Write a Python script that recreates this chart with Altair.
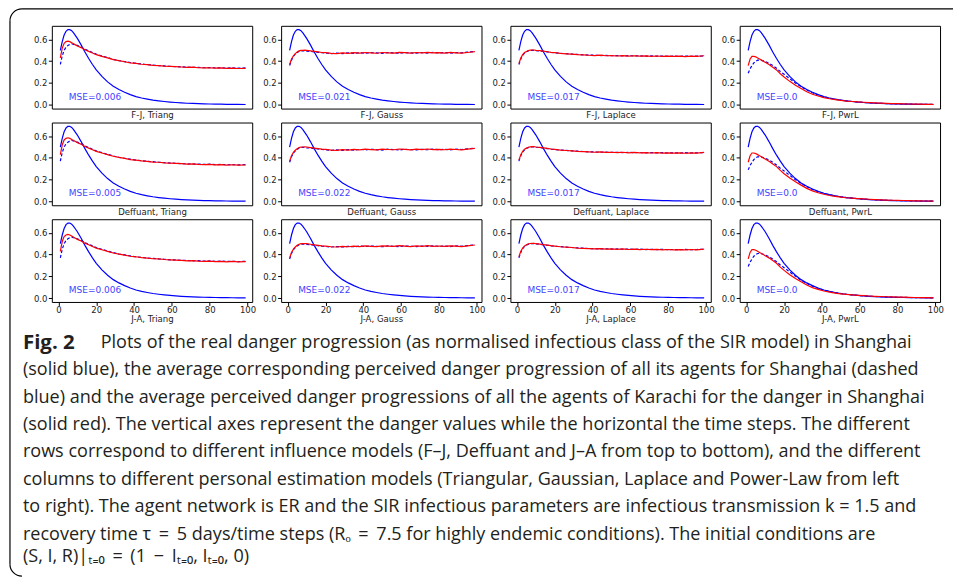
import altair as alt
import pandas as pd

# ---------------- data ----------------
T = [1, 2, 3, 4, 5, 6, 7, 8, 9, 10,
     12, 14, 16, 18, 20,
     23, 26, 29, 32, 35, 38, 41, 44, 47, 50, 53, 56, 59, 62, 65, 68, 71, 74, 77, 80, 83, 86, 89, 92, 95,
     99]

REAL = [.50, .58, .64, .675, .69, .69, .68, .66, .635, .61,
        .55, .485, .425, .37, .32,
        .26, .21, .17, .14, .115, .093, .075, .062, .052, .043, .036, .03, .025, .021, .017, .014, .012, .01,
        .0085, .007, .006, .005, .004, .0035, .003,
        .0025]

TRIANG_RED = [.43, .52, .565, .58, .585, .58, .57, .56, .55, .54,
              .525, .505, .49, .475, .46,
              .445, .43, .415, .405, .395, .385, .38, .372, .368, .362, .36, .355, .352, .35, .347, .343, .345, .34,
              .338, .34, .336, .338, .334, .337, .333,
              .335]
TRIANG_DASH = [.37, .45, .50, .53, .545, .555, .56, .555, .55, .545,
               .53, .51, .495, .48, .465,
               .448, .433, .418, .405, .397, .388, .38, .375, .368, .365, .36, .357, .352, .351, .348, .346, .343,
               .344, .34, .342, .338, .34, .337, .339, .336,
               .338]
GAUSS_RED = [.37, .42, .45, .47, .485, .495, .50, .50, .502, .50,
             .495, .49, .485, .48, .478,
             .472, .47, .476, .472, .478, .474, .48, .476, .473, .48, .477, .475, .482, .478, .474, .48, .476, .482,
             .476, .479, .475, .481, .477, .474, .48,
             .488]
GAUSS_DASH = [.36, .41, .445, .465, .48, .49, .495, .497, .495, .493,
              .49, .486, .482, .478, .475,
              .47, .474, .47, .476, .472, .478, .474, .479, .476, .472, .48, .476, .473, .479, .476, .474, .479,
              .475, .481, .476, .479, .474, .48, .477, .483,
              .49]
LAPLACE_RED = [.38, .43, .46, .48, .49, .498, .502, .503, .503, .50,
               .497, .492, .487, .482, .478,
               .472, .468, .465, .46, .458, .455, .452, .455, .45, .452, .448, .452, .447, .45, .446, .449, .445,
               .448, .444, .447, .444, .446, .443, .447, .444,
               .45]
LAPLACE_DASH = [.37, .42, .455, .475, .487, .495, .50, .50, .50, .498,
                .495, .49, .486, .481, .477,
                .473, .469, .465, .462, .459, .456, .455, .452, .454, .45, .452, .449, .451, .448, .45, .446, .449,
                .446, .448, .445, .447, .445, .448, .445, .447,
                .448]
PWRL_RED = [.36, .42, .445, .445, .44, .43, .42, .41, .40, .39,
            .37, .345, .32, .285, .255,
            .215, .18, .15, .12, .097, .08, .066, .055, .047, .04, .034, .03, .026, .023, .02, .017, .015, .013,
            .011, .01, .009, .007, .006, .005, .004,
            .003]
PWRL_DASH = [.29, .33, .36, .385, .40, .41, .41, .408, .403, .397,
             .38, .36, .335, .305, .28,
             .24, .20, .165, .135, .11, .09, .074, .061, .05, .042, .035, .03, .025, .021, .018, .015, .013, .011,
             .0095, .008, .007, .006, .005, .0045, .004,
             .003]

ROWS = ["F-J", "Deffuant", "J-A"]
COLS = ["Triang", "Gauss", "Laplace", "PwrL"]
RED = [TRIANG_RED, GAUSS_RED, LAPLACE_RED, PWRL_RED]
DASH = [TRIANG_DASH, GAUSS_DASH, LAPLACE_DASH, PWRL_DASH]
MSE = [["0.006", "0.021", "0.017", "0.0"],
       ["0.005", "0.022", "0.017", "0.0"],
       ["0.006", "0.022", "0.017", "0.0"]]
XTICKS = [0, 20, 40, 60, 80, 100]
YTICKS = [0.0, 0.2, 0.4, 0.6]

EQ = " \u2009=\u2009 "
CAPTION_BOLD = "Fig. 2"
CAPTION_FIRST = "Plots of the real danger progression (as normalised infectious class of the SIR model) in Shanghai"
CAPTION_LINES = [
    "(solid blue), the average corresponding perceived danger progression of all its agents for Shanghai (dashed",
    "blue) and the average perceived danger progressions of all the agents of Karachi for the danger in Shanghai",
    "(solid red). The vertical axes represent the danger values while the horizontal the time steps. The different",
    "rows correspond to different influence models (F\u2013J, Deffuant and J\u2013A from top to bottom), and the different",
    "columns to different personal estimation models (Triangular, Gaussian, Laplace and Power-Law from left",
    "to right). The agent network is ER and the SIR infectious parameters are infectious transmission k = 1.5 and",
    "recovery time \u03c4" + EQ + "5 days/time steps (R\u2092" + EQ + "7.5 for highly endemic conditions). The initial conditions are",
    "(S, I, R)|\u209c\u208c\u2080" + EQ + "(1 \u2009\u2212\u2009 I\u209c\u208c\u2080, I\u209c\u208c\u2080, 0)",
]
CAPTION_POS = [1, 2, 3, 4, 5, 6, 7, 7.8]

# ---------------- styling ----------------
PW, PH = 201, 83
TICK_FONT = "DejaVu Sans"
TXT = "#222222"
XS = alt.Scale(domain=[-3.5, 102.5], nice=False, zero=False)
YS = alt.Scale(domain=[-0.035, 0.725], nice=False, zero=False)


def panel(r, c):
    df = pd.DataFrame({"t": T, "real": REAL, "shanghai": DASH[c], "karachi": RED[c]})
    bottom = (r == 2)
    xaxis = alt.Axis(values=XTICKS, format="d", labels=bottom, ticks=bottom, grid=False, domain=False,
                     tickSize=3.5, tickColor="black", labelFont=TICK_FONT, labelFontSize=8.5,
                     labelColor=TXT, labelPadding=0.5, title=f"{ROWS[r]}, {COLS[c]}",
                     titleFont=TICK_FONT, titleFontSize=8.6, titleFontWeight="normal",
                     titleColor=TXT, titlePadding=(0.5 if bottom else 2))
    yaxis = alt.Axis(values=YTICKS, format=".1f", grid=False, domain=False, tickSize=3.5,
                     tickColor="black", labelFont=TICK_FONT, labelFontSize=8.5, labelColor=TXT,
                     labelPadding=1.5, title=None)
    base = alt.Chart(df)
    real = base.mark_line(color="#0000ff", strokeWidth=1.2).encode(
        x=alt.X("t:Q", scale=XS, axis=xaxis),
        y=alt.Y("real:Q", scale=YS, axis=yaxis))
    shang = base.mark_line(color="#0000ff", strokeWidth=1.2, strokeDash=[3, 2]).encode(
        x=alt.X("t:Q", scale=XS, axis=xaxis),
        y=alt.Y("shanghai:Q", scale=YS, axis=yaxis))
    kar = base.mark_line(color="#ff0000", strokeWidth=1.2).encode(
        x=alt.X("t:Q", scale=XS, axis=xaxis),
        y=alt.Y("karachi:Q", scale=YS, axis=yaxis))
    mse = alt.Chart(pd.DataFrame({"t": [5.5], "v": [0.075], "label": ["MSE=" + MSE[r][c]]})).mark_text(
        align="left", baseline="middle", font=TICK_FONT, fontSize=9, color="#4444ff").encode(
        x=alt.X("t:Q", scale=XS, axis=xaxis),
        y=alt.Y("v:Q", scale=YS, axis=yaxis),
        text="label:N")
    return alt.layer(real, shang, kar, mse).properties(width=PW, height=PH)


panels = [panel(r, c) for r in range(3) for c in range(4)]

# ---------------- caption ----------------
CAP_H = 261
CYS = alt.Scale(domain=[-0.982, 8.509], reverse=True, nice=False, zero=False)
cap_font = dict(font="Open Sans", color="#231f20", align="left", baseline="middle")

bold = alt.Chart(pd.DataFrame({"line": [0], "txt": [CAPTION_BOLD]})).mark_text(
    fontWeight="bold", fontSize=20.5, **cap_font).encode(
    x=alt.value(-29), y=alt.Y("line:Q", scale=CYS, axis=None), text="txt:N")
first = alt.Chart(pd.DataFrame({"line": [0], "txt": [CAPTION_FIRST]})).mark_text(
    fontSize=18.1, **cap_font).encode(
    x=alt.value(49), y=alt.Y("line:Q", scale=CYS, axis=None), text="txt:N")
rest = alt.Chart(pd.DataFrame({"line": CAPTION_POS, "txt": CAPTION_LINES})).mark_text(
    fontSize=18.1, **cap_font).encode(
    x=alt.value(-29), y=alt.Y("line:Q", scale=CYS, axis=None), text="txt:N")

one = pd.DataFrame({"k": [0]})
top_rule = alt.Chart(one).mark_rule(color="black", strokeWidth=1.2).encode(
    x=alt.value(-30), x2=alt.value(904), y=alt.value(-308))
left_rule = alt.Chart(one).mark_rule(color="black", strokeWidth=1.2).encode(
    x=alt.value(-42), y=alt.value(-296), y2=alt.value(249))
arc_tl = alt.Chart(one).mark_arc(color="black").encode(
    x=alt.value(-30), y=alt.value(-296), theta=alt.value(4.7124), theta2=alt.value(6.2832),
    radius=alt.value(12.6), radius2=alt.value(11.4))
arc_bl = alt.Chart(one).mark_arc(color="black").encode(
    x=alt.value(-30), y=alt.value(249), theta=alt.value(3.1416), theta2=alt.value(4.7124),
    radius=alt.value(12.6), radius2=alt.value(11.4))

caption = alt.layer(top_rule, left_rule, arc_tl, arc_bl, bold, first, rest).properties(
    width=PW, height=CAP_H, view=alt.ViewBackground(stroke="transparent"))

chart = alt.concat(*panels, caption, columns=4, spacing={"row": 14, "column": 29},
                   bounds="flush").properties(
    padding={"left": 8, "top": 6, "right": 0, "bottom": 0},
    background="white",
).configure_view(stroke="black", strokeWidth=1)

chart.save("out.html", embed_options={"renderer": "svg", "actions": False})
